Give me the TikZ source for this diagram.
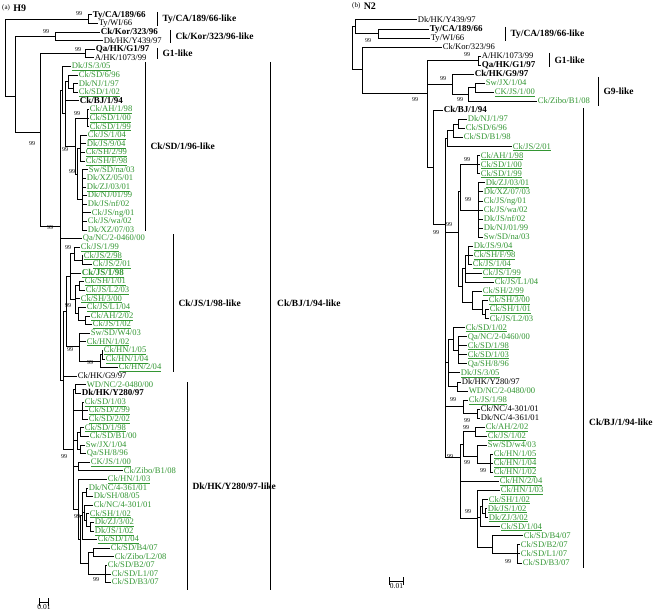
\documentclass[tikz,border=0pt]{standalone}
\usepackage{fontspec}
\setmainfont{Liberation Serif}
\usetikzlibrary{positioning}
\definecolor{leafgreen}{RGB}{51,150,51}
\begin{document}
\begin{tikzpicture}[x=1pt, y=-1pt,
  br/.style={line width=1pt},
  lf/.style={anchor=west, inner sep=0.6pt, text height=6.3pt, text depth=1.6pt, font=\fontsize{8.6}{9}\selectfont},
  gn/.style={lf, text=leafgreen},
  bd/.style={font=\fontsize{9}{9}\selectfont\bfseries},
  bs/.style={inner sep=0pt, font=\fontsize{6}{6}\selectfont},
  bar/.style={line width=1pt},
  clade/.style={anchor=west, inner sep=1pt, font=\fontsize{9.5}{10}\selectfont\bfseries},
  sbar/.style={|-|, line width=0.8pt},
  sbl/.style={inner sep=0pt, font=\fontsize{7.5}{8}\selectfont}
]
\useasboundingbox (0,0) rectangle (664,615);

\node[anchor=west, inner sep=0pt, font=\fontsize{7}{7}\selectfont] (ta) at (2,8) {(a)};
\node[right=3pt of ta, inner sep=0pt, font=\fontsize{10}{10}\selectfont\bfseries] (th) {H9};
\node[anchor=west, inner sep=0pt, font=\fontsize{7}{7}\selectfont] (tb) at (352,6) {(b)};
\node[right=3pt of tb, inner sep=0pt, font=\fontsize{10}{10}\selectfont\bfseries] (tn) {N2};

% H9 tree
\begin{scope}[y=-8.6pt, yshift=-6.4pt]
  \node[lf,bd] (l1) at (92,1) {Ty/CA/189/66};
  \node[lf] (l2) at (98,2) {Ty/WI/66};
  \node[lf,bd] (l3) at (100,3) {Ck/Kor/323/96};
  \node[lf] (l4) at (103,4) {Dk/HK/Y439/97};
  \node[lf,bd] (l5) at (95,5) {Qa/HK/G1/97};
  \node[lf] (l6) at (94,6) {A/HK/1073/99};
  \node[gn] (l7) at (71,7) {\underline{Dk/JS/3/05}};
  \node[gn] (l8) at (78,8) {Ck/SD/6/96};
  \node[gn] (l9) at (78,9) {Dk/NJ/1/97};
  \node[gn] (l10) at (78,10) {\underline{Ck/SD/1/02}};
  \node[lf,bd] (l11) at (79,11) {Ck/BJ/1/94};
  \node[gn] (l12) at (89,12) {\underline{Ck/AH/1/98}};
  \node[gn] (l13) at (89,13) {\underline{Ck/SD/1/00}};
  \node[gn] (l14) at (89,14) {\underline{Ck/SD/1/99}};
  \node[gn] (l15) at (87,15) {\underline{Ck/JS/1/04}};
  \node[gn] (l16) at (86,16) {\underline{Dk/JS/9/04}};
  \node[gn] (l17) at (85,17) {\underline{Ck/SH/2/99}};
  \node[gn] (l18) at (85,18) {\underline{Ck/SH/F/98}};
  \node[gn] (l19) at (88,19) {Sw/SD/na/03};
  \node[gn] (l20) at (86,20) {Dk/XZ/05/01};
  \node[gn] (l21) at (86,21) {\underline{Dk/ZJ/03/01}};
  \node[gn] (l22) at (87,22) {Dk/NJ/01/99};
  \node[gn] (l23) at (87,23) {Dk/JS/nf/02};
  \node[gn] (l24) at (91,24) {Ck/JS/ng/01};
  \node[gn] (l25) at (87,25) {Ck/JS/wa/02};
  \node[gn] (l26) at (87,26) {Dk/XZ/07/03};
  \node[gn] (l27) at (82,27) {Qa/NC/2-0460/00};
  \node[gn] (l28) at (80,28) {\underline{Ck/JS/1/99}};
  \node[gn] (l29) at (83,29) {\underline{Ck/JS/2/98}};
  \node[gn] (l30) at (92,30) {\underline{Ck/JS/2/01}};
  \node[gn,bd] (l31) at (81,31) {\underline{Ck/JS/1/98}};
  \node[gn] (l32) at (84,32) {\underline{Ck/SH/1/01}};
  \node[gn] (l33) at (85,33) {\underline{Ck/JS/L2/03}};
  \node[gn] (l34) at (80,34) {\underline{Ck/SH/3/00}};
  \node[gn] (l35) at (86,35) {\underline{Ck/JS/L1/04}};
  \node[gn] (l36) at (90,36) {\underline{Ck/AH/2/02}};
  \node[gn] (l37) at (92,37) {\underline{Ck/JS/1/02}};
  \node[gn] (l38) at (90,38) {Sw/SD/W4/03};
  \node[gn] (l39) at (86,39) {\underline{Ck/HN/1/02}};
  \node[gn] (l40) at (103,40) {\underline{Ck/HN/1/05}};
  \node[gn] (l41) at (105,41) {\underline{Ck/HN/1/04}};
  \node[gn] (l42) at (118,42) {\underline{Ck/HN/2/04}};
  \node[lf] (l43) at (77,43) {Ck/HK/G9/97};
  \node[gn] (l44) at (86,44) {WD/NC/2-0480/00};
  \node[lf,bd] (l45) at (81,45) {Dk/HK/Y280/97};
  \node[gn] (l46) at (84,46) {\underline{Ck/SD/1/03}};
  \node[gn] (l47) at (88,47) {\underline{Ck/SD/2/99}};
  \node[gn] (l48) at (88,48) {\underline{Ck/SD/2/02}};
  \node[gn] (l49) at (84,49) {\underline{Ck/SD/1/98}};
  \node[gn] (l50) at (89,50) {Ck/SD/B1/00};
  \node[gn] (l51) at (85,51) {Sw/JX/1/04};
  \node[gn] (l52) at (86,52) {Qa/SH/8/96};
  \node[gn] (l53) at (90,53) {\underline{CK/JS/1/00}};
  \node[gn] (l54) at (123,54) {Ck/Zibo/B1/08};
  \node[gn] (l55) at (107,55) {\underline{Ck/HN/1/03}};
  \node[gn] (l56) at (88,56) {Dk/NC/4-361/01};
  \node[gn] (l57) at (93,57) {Dk/SH/08/05};
  \node[gn] (l58) at (93,58) {Ck/NC/4-301/01};
  \node[gn] (l59) at (89,59) {\underline{Ck/SH/1/02}};
  \node[gn] (l60) at (94,60) {\underline{Dk/ZJ/3/02}};
  \node[gn] (l61) at (94,61) {\underline{Dk/JS/1/02}};
  \node[gn] (l62) at (97,62) {\underline{Ck/SD/1/04}};
  \node[gn] (l63) at (110,63) {Ck/SD/B4/07};
  \node[gn] (l64) at (114,64) {Ck/Zibo/L2/08};
  \node[gn] (l65) at (107,65) {Ck/SD/B2/07};
  \node[gn] (l66) at (111,66) {Ck/SD/L1/07};
  \node[gn] (l67) at (111,67) {Ck/SD/B3/07};

  \coordinate (a0) at (5,6);
  \coordinate (t1) at (88,1.5);
  \coordinate (a1) at (15,10.5);
  \coordinate (k1) at (55,3.5);
  \coordinate (b1) at (40,14.7);
  \coordinate (g1) at (85,5.5);
  \coordinate (c1) at (60,25.65);
  \coordinate (s10) at (62,9.75);
  \coordinate (s9) at (65,12.5);
  \coordinate (s2) at (68,8.75);
  \coordinate (s1) at (73,9.5);
  \coordinate (s8) at (75,16.25);
  \coordinate (s3) at (87,13);
  \coordinate (s7) at (77,19.5);
  \coordinate (s4) at (80,16.5);
  \coordinate (s5) at (82,22.5);
  \coordinate (c2) at (63,43.5);
  \coordinate (j11) at (66,35.5);
  \coordinate (j7) at (70,31.4);
  \coordinate (j2) at (74,28.75);
  \coordinate (j1) at (82,29.5);
  \coordinate (j4) at (75,34.1);
  \coordinate (j3) at (79,32.5);
  \coordinate (j6) at (78,35.75);
  \coordinate (j5) at (85,36.5);
  \coordinate (j10) at (79,39.6);
  \coordinate (j9) at (100,41.25);
  \coordinate (j8) at (102,40.5);
  \coordinate (y0) at (73,51.5);
  \coordinate (y10) at (75,44.5);
  \coordinate (y2) at (82,47);
  \coordinate (y5) at (77,50.5);
  \coordinate (y3) at (80,49.5);
  \coordinate (y4) at (80,51.5);
  \coordinate (y8) at (78,53.5);
  \coordinate (y9) at (78,58.5);
  \coordinate (z9) at (80,62);
  \coordinate (z5) at (82,59.25);
  \coordinate (z1) at (86,56.5);
  \coordinate (z4) at (84,58.9);
  \coordinate (z3) at (86,59.75);
  \coordinate (z2) at (90,60.5);
  \coordinate (z8) at (88,64.75);
  \coordinate (z6) at (93,63.5);
  \coordinate (z7) at (105,66);

  \foreach \p/\c in {a0/t1,a0/a1,t1/l1,t1/l2,a1/k1,a1/b1,k1/l3,k1/l4,b1/g1,b1/c1,g1/l5,g1/l6,
    c1/s10,c1/l27,c1/c2,s10/l7,s10/s9,s9/s2,s9/l11,s9/s8,s2/l8,s2/s1,s1/l9,s1/l10,
    s8/s3,s8/s7,s3/l12,s3/l13,s3/l14,s7/s4,s7/s5,s4/l15,s4/l16,s4/l17,s4/l18,
    s5/l19,s5/l20,s5/l21,s5/l22,s5/l23,s5/l24,s5/l25,s5/l26,
    c2/j11,c2/l43,c2/y0,j11/j7,j11/j10,j7/j2,j7/l31,j7/j4,j2/l28,j2/j1,j1/l29,j1/l30,
    j4/j3,j4/l34,j4/j6,j3/l32,j3/l33,j6/l35,j6/j5,j5/l36,j5/l37,
    j10/l38,j10/l39,j10/j9,j9/j8,j9/l42,j8/l40,j8/l41,
    y0/y10,y0/y2,y0/y5,y0/y8,y0/y9,y10/l44,y10/l45,y2/l46,y2/l47,y2/l48,
    y5/y3,y5/y4,y3/l49,y3/l50,y4/l51,y4/l52,y8/l53,y8/l54,y9/l55,y9/z9,
    z9/z5,z9/z8,z5/z1,z5/z4,z5/l62,z1/l56,z1/l57,z4/l58,z4/z3,z3/l59,z3/z2,z2/l60,z2/l61,
    z8/z6,z8/z7,z6/l63,z6/l64,z7/l65,z7/l66,z7/l67}
    \draw[br] (\p) |- (\c);
\end{scope}

% N2 tree
\begin{scope}[y=-9.05pt, yshift=-10.95pt]
  \node[lf] (r1) at (417,1) {Dk/HK/Y439/97};
  \node[lf,bd] (r2) at (429,2) {Ty/CA/189/66};
  \node[lf] (r3) at (430,3) {Ty/WI/66};
  \node[lf] (r4) at (442,4) {Ck/Kor/323/96};
  \node[lf] (r5) at (481,5) {A/HK/1073/99};
  \node[lf,bd] (r6) at (481,6) {Qa/HK/G1/97};
  \node[lf,bd] (r7) at (474,7) {Ck/HK/G9/97};
  \node[gn] (r8) at (485,8) {Sw/JX/1/04};
  \node[gn] (r9) at (494,9) {\underline{CK/JS/1/00}};
  \node[gn] (r10) at (537,10) {Ck/Zibo/B1/08};
  \node[lf,bd] (r11) at (443,11) {Ck/BJ/1/94};
  \node[gn] (r12) at (467,12) {Dk/NJ/1/97};
  \node[gn] (r13) at (465,13) {Ck/SD/6/96};
  \node[gn] (r14) at (463,14) {Ck/SD/B1/98};
  \node[gn] (r15) at (512,15) {\underline{Ck/JS/2/01}};
  \node[gn] (r16) at (480,16) {\underline{Ck/AH/1/98}};
  \node[gn] (r17) at (480,17) {\underline{Ck/SD/1/00}};
  \node[gn] (r18) at (480,18) {\underline{Ck/SD/1/99}};
  \node[gn] (r19) at (485,19) {\underline{Dk/ZJ/03/01}};
  \node[gn] (r20) at (483,20) {Dk/XZ/07/03};
  \node[gn] (r21) at (483,21) {Ck/JS/ng/01};
  \node[gn] (r22) at (483,22) {Ck/JS/wa/02};
  \node[gn] (r23) at (483,23) {Dk/JS/nf/02};
  \node[gn] (r24) at (483,24) {Dk/NJ/01/99};
  \node[gn] (r25) at (483,25) {Sw/SD/na/03};
  \node[gn] (r26) at (473,26) {\underline{Dk/JS/9/04}};
  \node[gn] (r27) at (473,27) {\underline{Ck/SH/F/98}};
  \node[gn] (r28) at (472,28) {\underline{Ck/JS/1/04}};
  \node[gn] (r29) at (482,29) {\underline{Ck/JS/1/99}};
  \node[gn] (r30) at (494,30) {Ck/JS/L1/04};
  \node[gn] (r31) at (482,31) {\underline{Ck/SH/2/99}};
  \node[gn] (r32) at (488,32) {\underline{Ck/SH/3/00}};
  \node[gn] (r33) at (489,33) {\underline{Ck/SH/1/01}};
  \node[gn] (r34) at (489,34) {Ck/JS/L2/03};
  \node[gn] (r35) at (465,35) {\underline{Ck/SD/1/02}};
  \node[gn] (r36) at (467,36) {Qa/NC/2-0460/00};
  \node[gn] (r37) at (467,37) {\underline{Ck/SD/1/98}};
  \node[gn] (r38) at (467,38) {\underline{Ck/SD/1/03}};
  \node[gn] (r39) at (467,39) {Qa/SH/8/96};
  \node[gn] (r40) at (460,40) {\underline{Dk/JS/3/05}};
  \node[lf] (r41) at (461,41) {Dk/HK/Y280/97};
  \node[gn] (r42) at (468,42) {WD/NC/2-0480/00};
  \node[gn] (r43) at (468,43) {\underline{Ck/JS/1/98}};
  \node[lf] (r44) at (480,44) {Ck/NC/4-301/01};
  \node[lf] (r45) at (480,45) {Dk/NC/4-361/01};
  \node[gn] (r46) at (485,46) {\underline{Ck/AH/2/02}};
  \node[gn] (r47) at (487,47) {\underline{Ck/JS/1/02}};
  \node[gn] (r48) at (487,48) {Sw/SD/w4/03};
  \node[gn] (r49) at (493,49) {\underline{Ck/HN/1/05}};
  \node[gn] (r50) at (493,50) {\underline{Ck/HN/1/04}};
  \node[gn] (r51) at (493,51) {\underline{Ck/HN/1/02}};
  \node[gn] (r52) at (499,52) {\underline{Ck/HN/2/04}};
  \node[gn] (r53) at (500,53) {\underline{Ck/HN/1/03}};
  \node[gn] (r54) at (488,54) {\underline{Ck/SH/1/02}};
  \node[gn] (r55) at (487,55) {\underline{Dk/JS/1/02}};
  \node[gn] (r56) at (488,56) {\underline{Dk/ZJ/3/02}};
  \node[gn] (r57) at (500,57) {\underline{Ck/SD/1/04}};
  \node[gn] (r58) at (523,58) {Ck/SD/B4/07};
  \node[gn] (r59) at (520,59) {Ck/SD/B2/07};
  \node[gn] (r60) at (520,60) {Ck/SD/L1/07};
  \node[gn] (r61) at (522,61) {Ck/SD/B3/07};

  \coordinate (q0) at (352,4.1);
  \coordinate (q2) at (355,1.75);
  \coordinate (q1) at (378,2.5);
  \coordinate (q3) at (362,6.5);
  \coordinate (q4) at (427,9.1);
  \coordinate (q5) at (478,5.5);
  \coordinate (q8) at (452,8.1);
  \coordinate (q7) at (468,9.25);
  \coordinate (q6) at (475,8.5);
  \coordinate (q9) at (433,17.35);
  \coordinate (q10) at (445,23.65);
  \coordinate (q15) at (447,14.1);
  \coordinate (q14) at (453,13.25);
  \coordinate (q13) at (458,12.5);
  \coordinate (q19) at (458,24.45);
  \coordinate (q18) at (460,20);
  \coordinate (q16) at (477,17);
  \coordinate (q17) at (478,22);
  \coordinate (q20) at (462,30.4);
  \coordinate (q23) at (465,28.5);
  \coordinate (q21) at (468,27);
  \coordinate (q26) at (472,32.25);
  \coordinate (q25) at (482,33);
  \coordinate (q24) at (485,33.5);
  \coordinate (q30) at (448,38.9);
  \coordinate (q28) at (453,36.25);
  \coordinate (q27) at (458,37.5);
  \coordinate (q29) at (457,41.5);
  \coordinate (q32) at (463,43.75);
  \coordinate (q31) at (477,44.5);
  \coordinate (q33) at (460,49.3);
  \coordinate (q35) at (463,47.9);
  \coordinate (q34) at (475,46.5);
  \coordinate (q36) at (477,49.25);
  \coordinate (q37) at (490,50);
  \coordinate (q45) at (477,56.1);
  \coordinate (q42) at (480,56);
  \coordinate (q41) at (482,54.75);
  \coordinate (q40) at (485,55.5);
  \coordinate (q44) at (492,59.25);
  \coordinate (q43) at (517,60);

  \foreach \p/\c in {q0/q2,q0/q3,q2/r1,q2/q1,q1/r2,q1/r3,q3/r4,q3/q4,
    q4/q5,q4/q8,q4/q9,q5/r5,q5/r6,q8/r7,q8/q7,q7/q6,q7/r10,q6/r8,q6/r9,
    q9/r11,q9/q10,q10/q15,q10/q19,q10/q30,q10/q32,q10/q33,
    q15/q14,q15/r15,q14/q13,q14/r14,q13/r12,q13/r13,
    q19/q18,q19/q20,q18/q16,q18/q17,q16/r16,q16/r17,q16/r18,
    q17/r19,q17/r20,q17/r21,q17/r22,q17/r23,q17/r24,q17/r25,
    q20/q23,q20/q26,q23/q21,q23/r29,q23/r30,q21/r26,q21/r27,q21/r28,
    q26/r31,q26/q25,q25/r32,q25/q24,q24/r33,q24/r34,
    q30/q28,q30/r40,q30/q29,q28/r35,q28/q27,q27/r36,q27/r37,q27/r38,q27/r39,q29/r41,q29/r42,
    q32/r43,q32/q31,q31/r44,q31/r45,
    q33/q35,q33/r52,q33/q45,q35/q34,q35/q36,q34/r46,q34/r47,q36/r48,q36/q37,
    q37/r49,q37/r50,q37/r51,q45/r53,q45/q42,q45/q44,q42/q41,q42/r57,
    q41/r54,q41/q40,q40/r55,q40/r56,q44/r58,q44/q43,q43/r59,q43/r60,q43/r61}
    \draw[br] (\p) |- (\c);
\end{scope}

\foreach \x/\y [count=\n] in {79/14,46/32,78/50,77/114,32/144,65/150,72/172,50/228,68/248,
  68/306,70/350,90/363,64/457,77/517,96/580}
  \node[bs] (bsl\n) at (\x,\y) {99};
\foreach \x/\y [count=\n] in {368/41,467/55,443/79,460/100,415/100,467/160,468/200,436/233,
  449/225,453/400,467/421,466/428,450/457,467/463,483/471,468/512,508/562}
  \node[bs] (bsr\n) at (\x,\y) {99};

\draw[bar] (157,12) -- node[clade, right=4pt] (cl1) {Ty/CA/189/66-like} (157,26);
\draw[bar] (170,30) -- node[clade, right=4pt] (cl2) {Ck/Kor/323/96-like} (170,43);
\draw[bar] (157,48) -- node[clade, right=4pt] (cl3) {G1-like} (157,59);
\draw[bar] (145,62) -- node[clade, right=4pt] (cl4) {Ck/SD/1/96-like} (145,231);
\draw[bar] (173,234) -- node[clade, right=4pt] (cl5) {Ck/JS/1/98-like} (173,372);
\draw[bar] (187,382) -- node[clade, right=4pt] (cl6) {Dk/HK/Y280/97-like} (187,590);
\draw[bar] (270,62) -- (270,590);
\node[clade] (cl7) at (276,303) {Ck/BJ/1/94-like};

\draw[bar] (505,27) -- node[clade, right=4pt] (cr1) {Ty/CA/189/66-like} (505,41);
\draw[bar] (549,53) -- node[clade, right=4pt] (cr2) {G1-like} (549,67);
\draw[bar] (598,77) -- node[clade, right=4pt] (cr3) {G9-like} (598,106);
\draw[bar] (583,108) -- (583,568);
\node[clade] (cr4) at (588,422) {Ck/BJ/1/94-like};

\coordinate (sl1) at (39,602);
\coordinate (sl2) at (49,602);
\draw[sbar] (sl1) -- (sl2);
\node[sbl, below=2pt of sl1, xshift=5pt] (sbl) {0.01};
\coordinate (sr1) at (389,581);
\coordinate (sr2) at (404,581);
\draw[sbar] (sr1) -- (sr2);
\node[sbl, below=2pt of sr1, xshift=7.5pt] (sbr) {0.01};
\end{tikzpicture}
\end{document}
